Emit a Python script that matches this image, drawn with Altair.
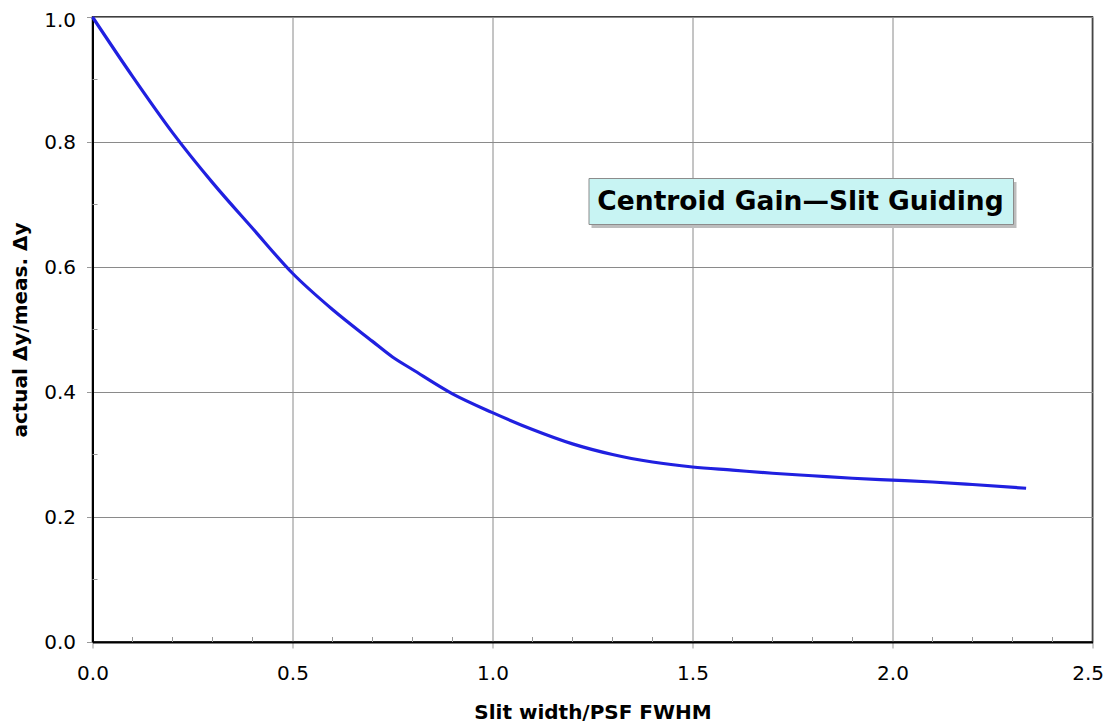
import altair as alt
import pandas as pd

# Curve data
xs = [0.0, 0.1, 0.2, 0.3, 0.4, 0.5, 0.6, 0.7, 0.75, 0.8, 0.9, 1.0, 1.1, 1.2,
      1.3, 1.4, 1.5, 1.6, 1.7, 1.8, 1.9, 2.0, 2.1, 2.2, 2.334]
ys = [1.0, 0.905, 0.815, 0.735, 0.662, 0.590, 0.532, 0.481, 0.456, 0.436,
      0.397, 0.367, 0.340, 0.317, 0.300, 0.288, 0.280, 0.275, 0.270, 0.266,
      0.262, 0.259, 0.256, 0.252, 0.246]

x_major = [0.0, 0.5, 1.0, 1.5, 2.0, 2.5]
y_major = [0.0, 0.2, 0.4, 0.6, 0.8, 1.0]
x_minor = [0.1, 0.2, 0.3, 0.4, 0.6, 0.7, 0.8, 0.9, 1.1, 1.2, 1.3, 1.4,
           1.6, 1.7, 1.8, 1.9, 2.1, 2.2, 2.3, 2.4]
y_minor = [0.1, 0.3, 0.5, 0.7, 0.9]

annotation = ["Centroid Gain\u2014Slit Guiding"]

W, H = 1000, 625
FONT = "DejaVu Sans"

df = pd.DataFrame({"x": xs, "y": ys})
xscale = alt.Scale(domain=[0, 2.5], nice=False, zero=False)
yscale = alt.Scale(domain=[0, 1], nice=False)

xaxis = alt.Axis(
    values=x_major, format=".1f", title="Slit width/PSF FWHM",
    grid=True, gridColor="#8a8a8a", gridWidth=1,
    tickSize=6, tickColor="#999999", tickWidth=1,
    domainColor="black", domainWidth=2, labelFlush=False,
    labelAlign={"condition": {"test": "datum.value >= 2.5", "value": "right"}, "value": "center"},
    labelOffset={"condition": {"test": "datum.value >= 2.5", "value": 11}, "value": 0},
    labelFont=FONT, labelFontSize=20, labelColor="black", labelPadding=15,
    titleFont=FONT, titleFontSize=20, titleFontWeight="bold", titleColor="black",
    titleBaseline="middle", titleY=70, titleX=W / 2)
yaxis = alt.Axis(
    values=y_major, format=".1f", title="actual \u0394y/meas. \u0394y",
    grid=True, gridColor="#8a8a8a", gridWidth=1,
    tickSize=6, tickColor="#999999", tickWidth=1,
    domainColor="black", domainWidth=2, labelFlush=False,
    labelOffset={"condition": {"test": "datum.value >= 1", "value": 3}, "value": 0},
    labelFont=FONT, labelFontSize=20, labelColor="black", labelPadding=11,
    titleFont=FONT, titleFontSize=20, titleFontWeight="bold", titleColor="black",
    titleBaseline="middle", titleX=-72, titleY=H / 2, titleAngle=-90)

line = alt.Chart(df).mark_line(color="#2020e0", strokeWidth=3.2, interpolate="monotone").encode(
    x=alt.X("x:Q", scale=xscale, axis=xaxis),
    y=alt.Y("y:Q", scale=yscale, axis=yaxis),
)

xminor = alt.Chart(pd.DataFrame({"x": x_minor})).mark_rule(color="#999999", strokeWidth=1).encode(
    x=alt.X("x:Q", scale=xscale, axis=xaxis),
    y=alt.value(H), y2=alt.value(H - 5),
)
yminor = alt.Chart(pd.DataFrame({"y": y_minor})).mark_rule(color="#999999", strokeWidth=1).encode(
    y=alt.Y("y:Q", scale=yscale, axis=yaxis),
    x=alt.value(0), x2=alt.value(5),
)

ann = pd.DataFrame({"t": annotation})
shadow = alt.Chart(ann).mark_rect(fill="#bdbdbd").encode(
    x=alt.value(499), x2=alt.value(924), y=alt.value(165), y2=alt.value(211),
)
box = alt.Chart(ann).mark_rect(fill="#c8f4f3", stroke="#8c8c8c", strokeWidth=1).encode(
    x=alt.value(496.5), x2=alt.value(921), y=alt.value(161.5), y2=alt.value(207.5),
)
text = alt.Chart(ann).mark_text(font=FONT, fontSize=26.5, fontWeight="bold", color="black",
                                align="center", baseline="middle").encode(
    text="t:N", x=alt.value(708), y=alt.value(185),
)

chart = alt.layer(line, xminor, yminor, shadow, box, text).properties(
    width=W, height=H,
    autosize=alt.AutoSizeParams(type="none"),
    padding={"left": 84.5, "top": 9, "right": 11, "bottom": 80},
    background="white",
).configure_view(stroke="black", strokeWidth=1.5)

chart.save("out.html", embed_options={"renderer": "svg", "actions": False})
